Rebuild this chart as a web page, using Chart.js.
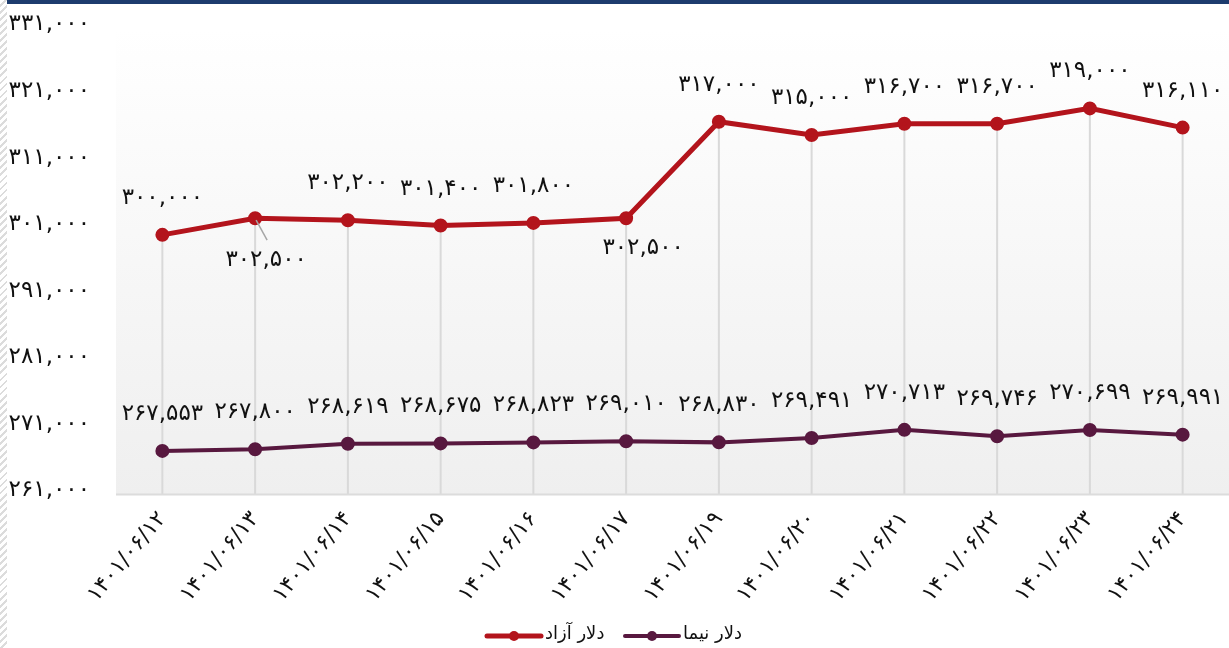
<!DOCTYPE html>
<html lang="fa">
  <head>
    <meta charset="UTF-8" />
    <script src="https://cdn.jsdelivr.net/npm/chart.js"></script>
    <title>دلار آزاد و دلار نیما</title>
    <style>
      html, body { margin: 0; padding: 0; background: #fff; }
      .page { position: relative; width: 1229px; height: 648px; overflow: hidden; }
      .hatch {
        position: absolute; left: 0; top: 0; width: 7px; height: 648px;
        background: repeating-linear-gradient(135deg, #fff 0px, #fff 3px, #dcdcdc 3px, #dcdcdc 5px);
      }
      .topbar { position: absolute; left: 7px; top: 0; right: 0; height: 4px; background: #1d3c6e; }
      #nerkh { position: absolute; left: 0; top: 0; }
    </style>
  </head>
  <body>
    <div class="page">
      <canvas id="nerkh" width="1229" height="648"></canvas>
      <div class="hatch"></div>
      <div class="topbar"></div>
    </div>

    <script>
      // تاریخ ها
      var tarikh = [
        "۱۴۰۱/۰۶/۱۲", "۱۴۰۱/۰۶/۱۳", "۱۴۰۱/۰۶/۱۴", "۱۴۰۱/۰۶/۱۵",
        "۱۴۰۱/۰۶/۱۶", "۱۴۰۱/۰۶/۱۷", "۱۴۰۱/۰۶/۱۹", "۱۴۰۱/۰۶/۲۰",
        "۱۴۰۱/۰۶/۲۱", "۱۴۰۱/۰۶/۲۲", "۱۴۰۱/۰۶/۲۳", "۱۴۰۱/۰۶/۲۴"
      ];
      var dolarAzad = [300000, 302500, 302200, 301400, 301800, 302500, 317000, 315000, 316700, 316700, 319000, 316110];
      var dolarNima = [267553, 267800, 268619, 268675, 268823, 269010, 268830, 269491, 270713, 269746, 270699, 269991];
      var seriesNames = ["دلار آزاد", "دلار نیما"];
      var yMin = 261000, yMax = 331000, yStep = 10000;

      var FONT = "'DejaVu Sans', 'Noto Sans', sans-serif";
      var RED = "#b3141c";
      var PURPLE = "#58183f";

      function fa(s) {
        return String(s).replace(/\d/g, function (d) { return "۰۱۲۳۴۵۶۷۸۹"[d]; });
      }
      function num(v) { return fa(v.toLocaleString("en-US")); }

      // پس زمینه ناحیه نمودار
      var bgPlugin = {
        id: "bg",
        beforeDatasetsDraw: function (chart) {
          var ctx = chart.ctx, a = chart.chartArea;
          var g = ctx.createLinearGradient(0, a.top, 0, a.bottom);
          g.addColorStop(0, "#ffffff");
          g.addColorStop(1, "#efefef");
          ctx.save();
          ctx.fillStyle = g;
          ctx.fillRect(a.left, a.top, a.right - a.left, a.bottom - a.top);
          // خطوط عمودی از نقطه ها تا پایین
          var xs = chart.scales.x, ys = chart.scales.y;
          ctx.strokeStyle = "#d9d9d9";
          ctx.lineWidth = 2;
          for (var i = 0; i < tarikh.length; i++) {
            var x = xs.getPixelForValue(i);
            ctx.beginPath();
            ctx.moveTo(x, ys.getPixelForValue(dolarAzad[i]));
            ctx.lineTo(x, a.bottom);
            ctx.stroke();
          }
          ctx.strokeStyle = "#dcdcdc";
          ctx.beginPath();
          ctx.moveTo(a.left, a.bottom);
          ctx.lineTo(a.right, a.bottom);
          ctx.stroke();
          ctx.restore();
        }
      };

      // برچسب مقادیر
      var jaaBejaa = { 0: [0, -37], 1: [11, 42], 5: [17, 30] };
      var labelPlugin = {
        id: "valueLabels",
        afterDatasetsDraw: function (chart) {
          var ctx = chart.ctx;
          ctx.save();
          ctx.font = "23px " + FONT;
          ctx.fillStyle = "#111";
          ctx.textAlign = "center";
          ctx.textBaseline = "middle";
          chart.data.datasets.forEach(function (ds, di) {
            var meta = chart.getDatasetMeta(di);
            meta.data.forEach(function (p, i) {
              var off = [0, -37];
              if (di === 0 && jaaBejaa[i]) off = jaaBejaa[i];
              if (di === 0 && i === 1) {
                ctx.strokeStyle = "#a6a6a6";
                ctx.lineWidth = 1.5;
                ctx.beginPath();
                ctx.moveTo(p.x + 1, p.y + 2);
                ctx.lineTo(p.x + 12, p.y + 22);
                ctx.stroke();
              }
              ctx.fillText(num(ds.data[i]), p.x + off[0], p.y + off[1]);
            });
          });
          ctx.restore();
        }
      };

      // راهنما
      var legendPlugin = {
        id: "myLegend",
        afterDraw: function (chart) {
          var ctx = chart.ctx;
          var items = [
            { x: 487, color: RED, w: 5, text: seriesNames[0] },
            { x: 625, color: PURPLE, w: 4, text: seriesNames[1] }
          ];
          ctx.save();
          ctx.font = "18px " + FONT;
          ctx.textBaseline = "middle";
          ctx.textAlign = "left";
          items.forEach(function (it) {
            var y = 636;
            ctx.strokeStyle = it.color;
            ctx.lineWidth = it.w;
            ctx.lineCap = "round";
            ctx.beginPath();
            ctx.moveTo(it.x, y);
            ctx.lineTo(it.x + 54, y);
            ctx.stroke();
            ctx.fillStyle = it.color;
            ctx.beginPath();
            ctx.arc(it.x + 27, y, 5, 0, Math.PI * 2);
            ctx.fill();
            ctx.fillStyle = "#111";
            ctx.fillText(it.text, it.x + 58, y - 2);
          });
          ctx.restore();
        }
      };

      var chart = new Chart(document.getElementById("nerkh"), {
        type: "line",
        data: {
          labels: tarikh,
          datasets: [
            {
              label: seriesNames[0],
              data: dolarAzad,
              borderColor: RED,
              backgroundColor: RED,
              borderWidth: 5,
              pointRadius: 4.5,
              tension: 0
            },
            {
              label: seriesNames[1],
              data: dolarNima,
              borderColor: PURPLE,
              backgroundColor: PURPLE,
              borderWidth: 4,
              pointRadius: 5,
              tension: 0
            }
          ]
        },
        options: {
          responsive: false,
          animation: false,
          layout: { autoPadding: false, padding: { top: 28.5, right: -7, left: 0, bottom: 0 } },
          plugins: { legend: { display: false }, tooltip: { enabled: false } },
          scales: {
            x: {
              offset: true,
              grid: { display: false },
              border: { display: false },
              ticks: {
                color: "#111",
                font: { family: FONT, size: 22 },
                minRotation: 50,
                maxRotation: 50,
                padding: 4
              },
              afterFit: function (s) {
                s.height = 153.5;
                s.paddingLeft = 0;
                s.paddingRight = 0;
              }
            },
            y: {
              min: yMin,
              max: yMax,
              grid: { display: false },
              border: { display: false },
              ticks: {
                stepSize: yStep,
                color: "#111",
                font: { family: FONT, size: 23 },
                padding: 18,
                labelOffset: -4,
                callback: function (v) { return num(v); }
              },
              afterFit: function (s) {
                s.width = 116;
                s.paddingTop = 0;
                s.paddingBottom = 0;
              }
            }
          }
        },
        plugins: [bgPlugin, labelPlugin, legendPlugin]
      });
    </script>
  </body>
</html>
